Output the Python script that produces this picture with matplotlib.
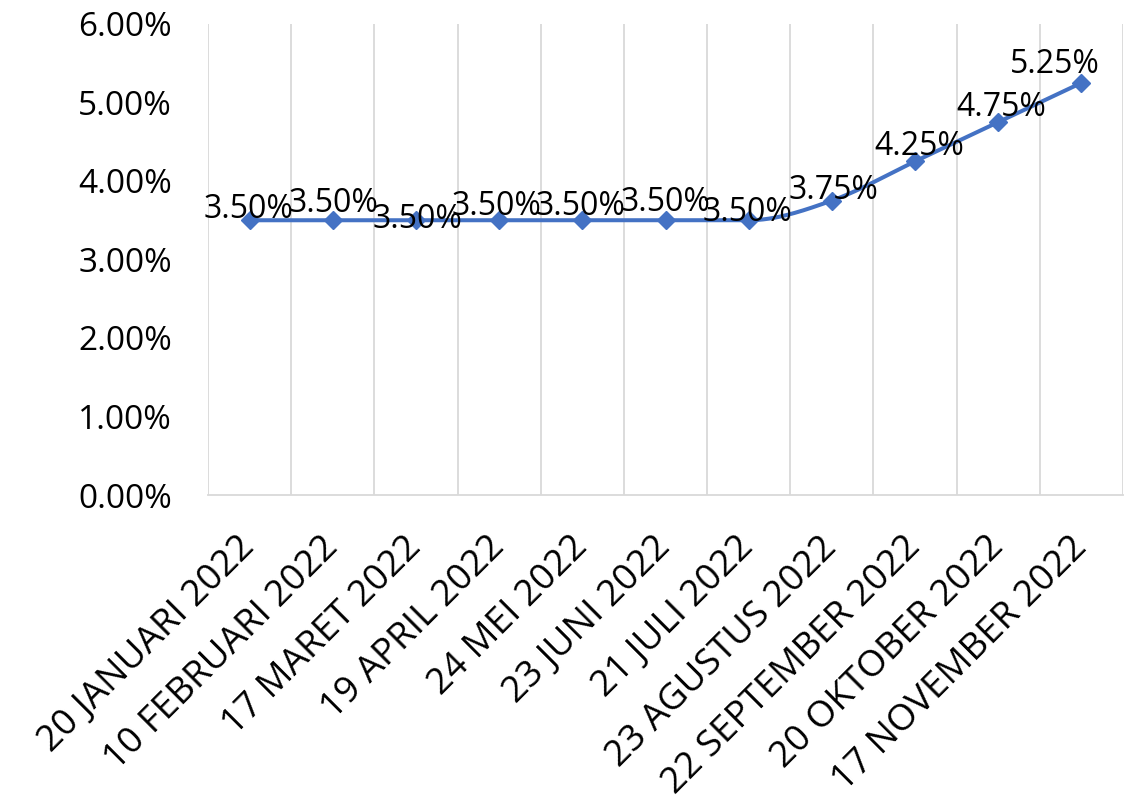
import numpy as np
import matplotlib
matplotlib.use("Agg")
import matplotlib.pyplot as plt
from matplotlib.ticker import FixedLocator, FuncFormatter

# BI 7-day reverse repo rate decisions, 2022
dates = [
    "20 JANUARI 2022", "10 FEBRUARI 2022", "17 MARET 2022", "19 APRIL 2022",
    "24 MEI 2022", "23 JUNI 2022", "21 JULI 2022", "23 AGUSTUS 2022",
    "22 SEPTEMBER 2022", "20 OKTOBER 2022", "17 NOVEMBER 2022",
]
rates = [3.50, 3.50, 3.50, 3.50, 3.50, 3.50, 3.50, 3.75, 4.25, 4.75, 5.25]
y_ticks = [0, 1, 2, 3, 4, 5, 6]

# data label nudges (pixels: right, down) so neighbouring labels don't stack
label_dx = [-1, 1, 2, -3, -2, 0, -1, 2, 4, 3, -27]
label_dy = [-2, -8, 8, -5, -5, -9, 1, -2, -6, -6, -10]

LINE = "#4472C4"
GRID = "#D9D9D9"
FONT = "Open Sans"

DPI = 100
fig = plt.figure(figsize=(11.33, 8.05), dpi=DPI)
W, H = 1133, 805
ax = fig.add_axes([208 / W, (H - 495) / H, (1123 - 208) / W, (495 - 24) / H])

x = np.arange(len(rates), dtype=float)
y = np.asarray(rates, dtype=float)


def smooth(xs, ys, steps=30):
    """Cubic Bezier through the points; tangents flatten where the series is level."""
    n = len(xs)
    d = np.diff(ys) / np.diff(xs)
    m = np.zeros(n)
    for i in range(n):
        if i == 0:
            m[i] = d[0]
        elif i == n - 1:
            m[i] = d[-1]
        elif d[i - 1] * d[i] <= 0:
            m[i] = 0.0
        else:
            m[i] = (ys[i + 1] - ys[i - 1]) / (xs[i + 1] - xs[i - 1])
    t = np.linspace(0, 1, steps)
    out_x, out_y = [], []
    for i in range(n - 1):
        h = xs[i + 1] - xs[i]
        p0 = np.array([xs[i], ys[i]])
        p3 = np.array([xs[i + 1], ys[i + 1]])
        c1 = p0 + np.array([h / 3, m[i] * h / 3])
        c2 = p3 - np.array([h / 3, m[i + 1] * h / 3])
        b = ((1 - t) ** 3)[:, None] * p0 + (3 * (1 - t) ** 2 * t)[:, None] * c1 \
            + (3 * (1 - t) * t ** 2)[:, None] * c2 + (t ** 3)[:, None] * p3
        out_x.extend(b[:, 0])
        out_y.extend(b[:, 1])
    return np.array(out_x), np.array(out_y)


sx, sy = smooth(x, y)
ax.plot(sx, sy, color=LINE, lw=2.9, solid_capstyle="round", zorder=3)
ax.plot(x, y, linestyle="none", marker="D", ms=9, color=LINE, zorder=4)

pt = 72.0 / DPI
for xi, yi, dx, dy in zip(x, y, label_dx, label_dy):
    ax.annotate(f"{yi:.2f}%", (xi, yi), xytext=(dx * pt, -dy * pt),
                textcoords="offset points", ha="center", va="baseline",
                fontsize=23, family=FONT, color="black", zorder=5)

ax.set_xlim(-0.5, len(rates) - 0.5)
ax.set_ylim(0, 6)

# vertical category separators
ax.xaxis.set_minor_locator(FixedLocator(np.arange(-0.5, len(rates), 1.0)))
ax.grid(axis="x", which="minor", color=GRID, lw=1.3)
ax.grid(axis="x", which="major", visible=False)
ax.grid(axis="y", visible=False)
ax.set_axisbelow(True)

for side in ("top", "right", "left"):
    ax.spines[side].set_visible(False)
ax.spines["bottom"].set_color(GRID)
ax.spines["bottom"].set_linewidth(1.3)

ax.set_yticks(y_ticks)
ax.yaxis.set_major_formatter(FuncFormatter(lambda v, p: f"{v:.2f}%"))
ax.tick_params(axis="y", length=0, pad=26, labelsize=24)
for lab in ax.get_yticklabels():
    lab.set_family(FONT)

ax.set_xticks(x)
ax.set_xticklabels(dates, rotation=45, ha="right", va="center",
                   rotation_mode="anchor", family=FONT, fontsize=26.5)
ax.tick_params(axis="x", which="both", length=0, pad=34)

fig.savefig("out.png", dpi=DPI, facecolor="white")
